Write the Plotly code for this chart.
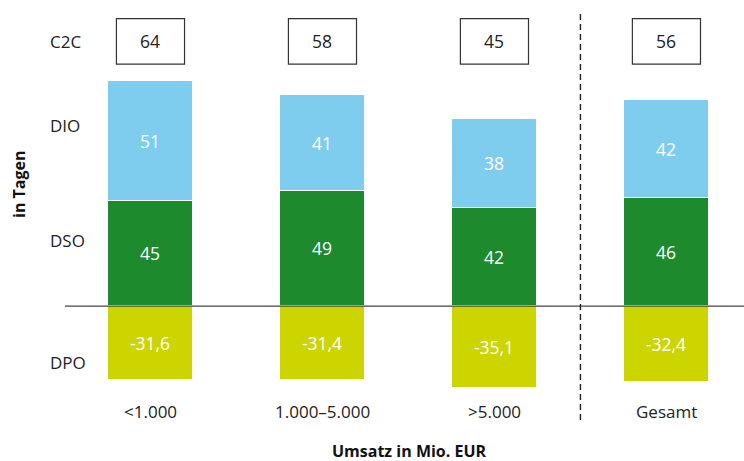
import plotly.graph_objects as go

categories = ["<1.000", "1.000–5.000", ">5.000", "Gesamt"]
dso = [45, 49, 42, 46]
dio = [51, 41, 38, 42]
dpo = [-31.6, -31.4, -35.1, -32.4]
c2c = [64, 58, 45, 56]
row_labels = ["C2C", "DIO", "DSO", "DPO"]

BLUE = "#7FCDEE"
GREEN = "#1D8A2E"
LIME = "#CDD500"
FONT = "Open Sans, Noto Sans, sans-serif"
INK = "#222222"

x = list(range(len(categories)))


def de(v):
    s = f"{v:.1f}" if v != int(v) else f"{int(v)}"
    return s.replace(".", ",")


fig = go.Figure()
for name, vals, col in [("DSO", dso, GREEN), ("DIO", dio, BLUE), ("DPO", dpo, LIME)]:
    fig.add_trace(go.Bar(
        x=x, y=vals, name=name, width=0.495,
        marker=dict(color=col, line=dict(color="white", width=1)),
        text=[de(v) for v in vals], textposition="inside",
        insidetextanchor="middle",
        textfont=dict(color="white", size=17.5, family=FONT),
        hoverinfo="skip",
    ))

annotations = []

# C2C boxes above bars
box_lo, box_hi = 103.4, 122.8
for i, v in enumerate(c2c):
    fig.add_shape(type="rect", x0=i - 0.198, x1=i + 0.198, y0=box_lo, y1=box_hi,
                  line=dict(color="#333333", width=1.2), fillcolor="white")
    annotations.append(dict(x=i, y=(box_lo + box_hi) / 2, text=str(v), showarrow=False,
                            font=dict(size=17.5, color=INK, family=FONT)))

# category labels under the bars
for i, c in enumerate(categories):
    annotations.append(dict(x=i, y=-45, text=c, showarrow=False,
                            font=dict(size=17, color=INK, family=FONT)))

# row labels on the left
row_y = [113, 77, 28, -24]
for lab, yy in zip(row_labels, row_y):
    annotations.append(dict(x=-0.596, y=yy, text=lab, showarrow=False, xanchor="left",
                            font=dict(size=17, color=INK, family=FONT)))

# axis titles
annotations.append(dict(x=19 / 744, y=1 - 184 / 461, xref="paper", yref="paper",
                        xanchor="center", yanchor="middle", text="<b>in Tagen</b>",
                        showarrow=False, textangle=-90,
                        font=dict(size=16, color="#111111", family=FONT)))
annotations.append(dict(x=410 / 744, y=1 - 451 / 461, xref="paper", yref="paper",
                        xanchor="center", yanchor="middle",
                        text="<b>Umsatz in Mio. EUR</b>", showarrow=False,
                        font=dict(size=16, color="#111111", family=FONT)))

# zero line and separator
fig.add_shape(type="line", x0=-0.497, x1=3.46, y0=0, y1=0,
              line=dict(color="#444444", width=1.3))
fig.add_shape(type="line", x0=2.5, x1=2.5, y0=-48.7, y1=125.2,
              line=dict(color="#222222", width=1.4, dash="6px,4px"))

fig.update_layout(
    width=744, height=461, margin=dict(l=0, r=0, t=0, b=0),
    plot_bgcolor="white", paper_bgcolor="white",
    barmode="relative", bargap=0, showlegend=False,
    xaxis=dict(range=[-0.875, 3.451], visible=False, fixedrange=True),
    yaxis=dict(range=[-66.2, 130.8], visible=False, fixedrange=True),
    annotations=annotations,
)

fig.write_html("out.html")
